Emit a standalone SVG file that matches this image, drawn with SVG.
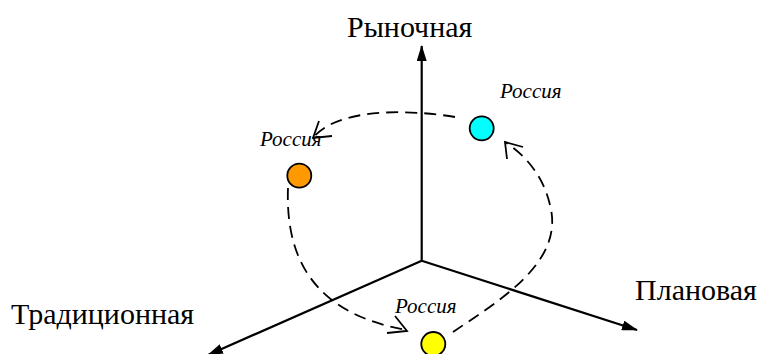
<svg xmlns="http://www.w3.org/2000/svg" width="764" height="354" viewBox="0 0 764 354">
  <style>
    .axis { stroke: #000; stroke-width: 2.2; fill: none; marker-end: url(#solidHead); }
    .path { stroke: #000; stroke-width: 1.8; fill: none; stroke-dasharray: 12 7; }
    .head { stroke: #000; stroke-width: 1.8; fill: none; }
    .dot { stroke: #000; stroke-width: 1.8; }
    .title { font-size: 30px; fill: #000; }
    .tag { font-size: 21px; font-style: italic; fill: #000; }
  </style>
  <defs>
    <marker id="solidHead" viewBox="0 0 16 10" refX="15" refY="5" markerWidth="16" markerHeight="10" markerUnits="userSpaceOnUse" orient="auto">
      <path d="M0,0 L16,5 L0,10 Z" fill="#000"/>
    </marker>
  </defs>

  <!-- axes -->
  <g id="axes">
    <line class="axis" x1="421.7" y1="260.7" x2="421.7" y2="46"/>
    <line class="axis" x1="421.7" y1="260.7" x2="637" y2="330"/>
    <line class="axis" x1="421.7" y1="260.7" x2="208" y2="355"/>
  </g>

  <!-- transitions -->
  <g id="connectors">
    <path class="path" d="M455,117 C400,108 335,110 313,138"/>
    <path class="head" d="M319,121 L313,138 L332,136"/>
    <path class="path" d="M288,188 C285,265 320,315 407,330"/>
    <path class="head" d="M395,316 L407,331 L387,333"/>
    <path class="path" d="M453,332 C500,300 565,262 550,205 C543,175 525,155 505,142"/>
    <path class="head" d="M507,159 L505,142 L523,147"/>
  </g>

  <g font-family="Liberation Serif, Tinos, DejaVu Serif, serif">
    <g id="label-market"><text class="title" x="347" y="36.5">Рыночная</text></g>
    <g id="label-planned"><text class="title" x="635" y="299.5">Плановая</text></g>
    <g id="label-traditional"><text class="title" x="11" y="323.5">Традиционная</text></g>

    <g id="node-market">
      <circle class="dot" cx="481.7" cy="128.3" r="12" fill="#00ffff"/>
      <text class="tag" x="500" y="98">Россия</text>
    </g>
    <g id="node-traditional">
      <circle class="dot" cx="299.3" cy="175.7" r="12" fill="#ff9900"/>
      <text class="tag" x="260" y="146">Россия</text>
    </g>
    <g id="node-planned">
      <circle class="dot" cx="433.3" cy="344" r="12" fill="#ffff00"/>
      <text class="tag" x="395" y="313">Россия</text>
    </g>
  </g>
</svg>
